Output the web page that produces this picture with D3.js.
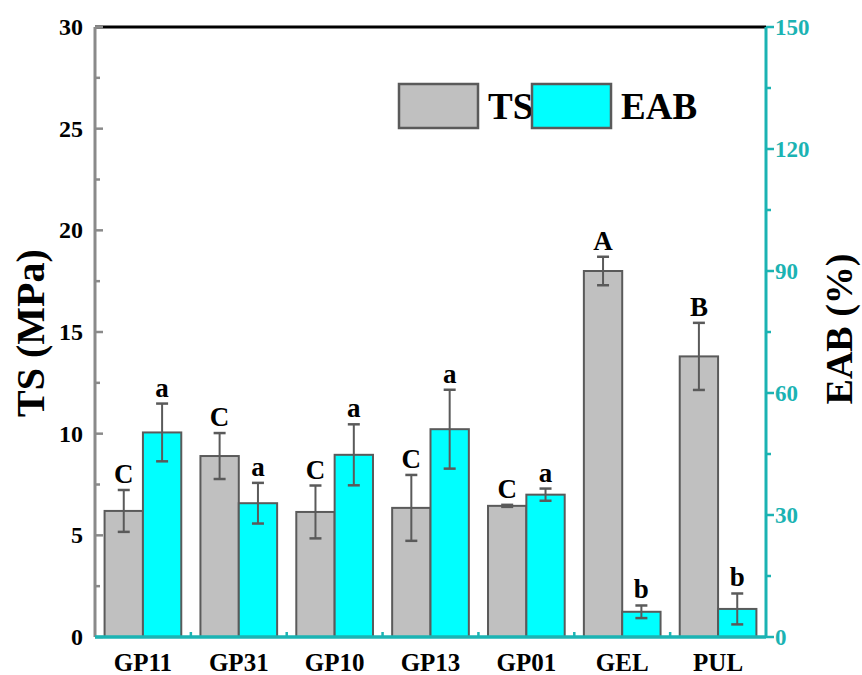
<!DOCTYPE html>
<html>
<head>
<meta charset="utf-8">
<script src="https://cdn.jsdelivr.net/npm/d3@7"></script>
<style>
  html, body { margin: 0; padding: 0; background: #fff; }
  svg { display: block; }
  svg text { font-family: "Liberation Serif", "Times New Roman", Times, "DejaVu Serif", serif; font-weight: 700; }
</style>
</head>
<body>
<svg id="chart" width="862" height="675"></svg>
<script>
// Sample groups
const categories = ["GP11", "GP31", "GP10", "GP13", "GP01", "GEL", "PUL"];
// Tensile strength (MPa) with standard deviation
const tsValues = [6.2, 8.9, 6.15, 6.35, 6.45, 18.0, 13.8];
const tsErrors = [1.03, 1.13, 1.3, 1.62, 0.05, 0.7, 1.65];
const tsLetters = ["C", "C", "C", "C", "C", "A", "B"];
// Elongation at break (%) with standard deviation
const eabValues = [50.3, 32.9, 44.8, 51.1, 35.0, 6.2, 6.9];
const eabErrors = [7.1, 5.0, 7.5, 9.7, 1.5, 1.55, 3.8];
const eabLetters = ["a", "a", "a", "a", "a", "b", "b"];
// Axis ticks
const tsTicks = [0, 5, 10, 15, 20, 25, 30];
const tsMinorTicks = [2.5, 7.5, 12.5, 17.5, 22.5, 27.5];
const eabTicks = [0, 30, 60, 90, 120, 150];
const eabMinorTicks = [15, 45, 75, 105, 135];
const seriesNames = ["TS", "EAB"];

const FONT = "'Liberation Serif', 'Times New Roman', Times, 'DejaVu Serif', serif";
const svg = d3.select("#chart");
const m = { left: 95, right: 766, top: 27, bottom: 637 };
const teal = "#1bb3b3";
const gray = "#8a8a8a";
const barStroke = "#5a5a5a";
const fills = ["#c0c0c0", "#00ffff"];

const x = d3.scaleBand().domain(categories).range([m.left, m.right]).padding(0);
const yTS = d3.scaleLinear().domain([0, 30]).range([m.bottom, m.top]);
const yEAB = d3.scaleLinear().domain([0, 150]).range([m.bottom, m.top]);

const barW = x.bandwidth() * 0.4;
const groupOffset = x.bandwidth() * 0.1;

// Draws a set of tick marks on an axis group
function ticks(g, cls, data, pos, len, color, vertical) {
  g.selectAll("line." + cls).data(data).join("line")
    .attr("class", cls)
    .attr("x1", d => vertical ? 0 : pos(d))
    .attr("x2", d => vertical ? len : pos(d))
    .attr("y1", d => vertical ? pos(d) : 0)
    .attr("y2", d => vertical ? pos(d) : -len)
    .attr("stroke", color).attr("stroke-width", 2.5);
}

// Top frame line
svg.append("line")
  .attr("x1", m.left).attr("x2", m.right)
  .attr("y1", m.top).attr("y2", m.top)
  .attr("stroke", "#000").attr("stroke-width", 3);

// Left axis (TS)
const gL = svg.append("g").attr("transform", `translate(${m.left},0)`);
gL.append("line").attr("x1", 0).attr("x2", 0).attr("y1", m.top).attr("y2", m.bottom)
  .attr("stroke", gray).attr("stroke-width", 3);
ticks(gL, "maj", tsTicks, yTS, 8, gray, true);
ticks(gL, "min", tsMinorTicks, yTS, 5, gray, true);
gL.selectAll("text").data(tsTicks).join("text")
  .attr("x", -12).attr("y", d => yTS(d)).attr("dy", "0.33em")
  .attr("text-anchor", "end").attr("font-size", 24).attr("fill", "#000")
  .attr("font-family", FONT).attr("font-weight", "bold")
  .text(d => d);

// Right axis (EAB)
const gR = svg.append("g").attr("transform", `translate(${m.right},0)`);
gR.append("line").attr("x1", 0).attr("x2", 0).attr("y1", m.top).attr("y2", m.bottom)
  .attr("stroke", teal).attr("stroke-width", 3);
ticks(gR, "maj", eabTicks, yEAB, 8, teal, true);
ticks(gR, "min", eabMinorTicks, yEAB, 5, teal, true);
gR.selectAll("text").data(eabTicks).join("text")
  .attr("x", 9).attr("y", d => yEAB(d)).attr("dy", "0.33em")
  .attr("text-anchor", "start").attr("font-size", 23).attr("fill", teal)
  .attr("font-family", FONT).attr("font-weight", "bold")
  .text(d => d);

// Bottom axis
const gB = svg.append("g").attr("transform", `translate(0,${m.bottom})`);
ticks(gB, "ctr", categories, d => x(d) + x.bandwidth() / 2, 8, teal, false);
ticks(gB, "bnd", categories.slice(1), d => x(d), 5, teal, false);

// Bars
const rows = categories.map((c, i) => ({
  c, ts: tsValues[i], tsE: tsErrors[i], tsL: tsLetters[i],
  eab: eabValues[i], eabE: eabErrors[i], eabL: eabLetters[i]
}));

const series = [
  { key: "ts", err: "tsE", lab: "tsL", y: yTS, off: groupOffset, fill: fills[0] },
  { key: "eab", err: "eabE", lab: "eabL", y: yEAB, off: groupOffset + barW, fill: fills[1] }
];

series.forEach(s => {
  svg.append("g").selectAll("rect").data(rows).join("rect")
    .attr("x", d => x(d.c) + s.off)
    .attr("y", d => s.y(d[s.key]))
    .attr("width", barW)
    .attr("height", d => s.y(0) - s.y(d[s.key]))
    .attr("fill", s.fill).attr("stroke", barStroke).attr("stroke-width", 2);
});

// Bottom axis line drawn over the bar bases
svg.append("line")
  .attr("x1", m.left).attr("x2", m.right)
  .attr("y1", m.bottom).attr("y2", m.bottom)
  .attr("stroke", teal).attr("stroke-width", 3.5);

// Error bars and significance letters
series.forEach(s => {
  const g = svg.append("g");
  const cx = d => x(d.c) + s.off + barW / 2;
  const hi = d => s.y(d[s.key] + d[s.err]);
  const lo = d => s.y(d[s.key] - d[s.err]);
  g.selectAll("line.v").data(rows).join("line").attr("class", "v")
    .attr("x1", cx).attr("x2", cx).attr("y1", hi).attr("y2", lo)
    .attr("stroke", barStroke).attr("stroke-width", 2);
  g.selectAll("line.capHi").data(rows).join("line").attr("class", "capHi")
    .attr("x1", d => cx(d) - 6).attr("x2", d => cx(d) + 6).attr("y1", hi).attr("y2", hi)
    .attr("stroke", barStroke).attr("stroke-width", 2.5);
  g.selectAll("line.capLo").data(rows).join("line").attr("class", "capLo")
    .attr("x1", d => cx(d) - 6).attr("x2", d => cx(d) + 6).attr("y1", lo).attr("y2", lo)
    .attr("stroke", barStroke).attr("stroke-width", 2.5);
  g.selectAll("text").data(rows).join("text")
    .attr("x", cx)
    .attr("y", d => hi(d) - 7)
    .attr("text-anchor", "middle").attr("font-size", 27).attr("fill", "#000")
    .attr("font-family", FONT).attr("font-weight", "bold")
    .text(d => d[s.lab]);
});

// Category labels
svg.append("g").selectAll("text").data(categories).join("text")
  .attr("x", d => x(d) + x.bandwidth() / 2)
  .attr("y", 671)
  .attr("text-anchor", "middle").attr("font-size", 25).attr("fill", "#000")
  .attr("font-family", FONT).attr("font-weight", "bold")
  .text(d => d);

// Axis titles
svg.append("text")
  .attr("transform", "translate(44,333) rotate(-90)")
  .attr("text-anchor", "middle").attr("font-size", 40).attr("fill", "#000")
  .attr("font-family", FONT).attr("font-weight", "bold")
  .text("TS (MPa)");
svg.append("text")
  .attr("transform", "translate(852,329) rotate(-90)")
  .attr("text-anchor", "middle").attr("font-size", 38).attr("fill", "#000")
  .attr("font-family", FONT).attr("font-weight", "bold")
  .text("EAB (%)");

// Legend
const legend = svg.append("g");
const legendX = [399, 532];
seriesNames.forEach((name, i) => {
  legend.append("rect")
    .attr("x", legendX[i]).attr("y", 84).attr("width", 79).attr("height", 44)
    .attr("fill", fills[i]).attr("stroke", barStroke).attr("stroke-width", 2.5);
  legend.append("text")
    .attr("x", legendX[i] + 89).attr("y", 119)
    .attr("font-size", 37).attr("fill", "#000")
    .attr("font-family", FONT).attr("font-weight", "bold")
    .text(name);
});
</script>
</body>
</html>
